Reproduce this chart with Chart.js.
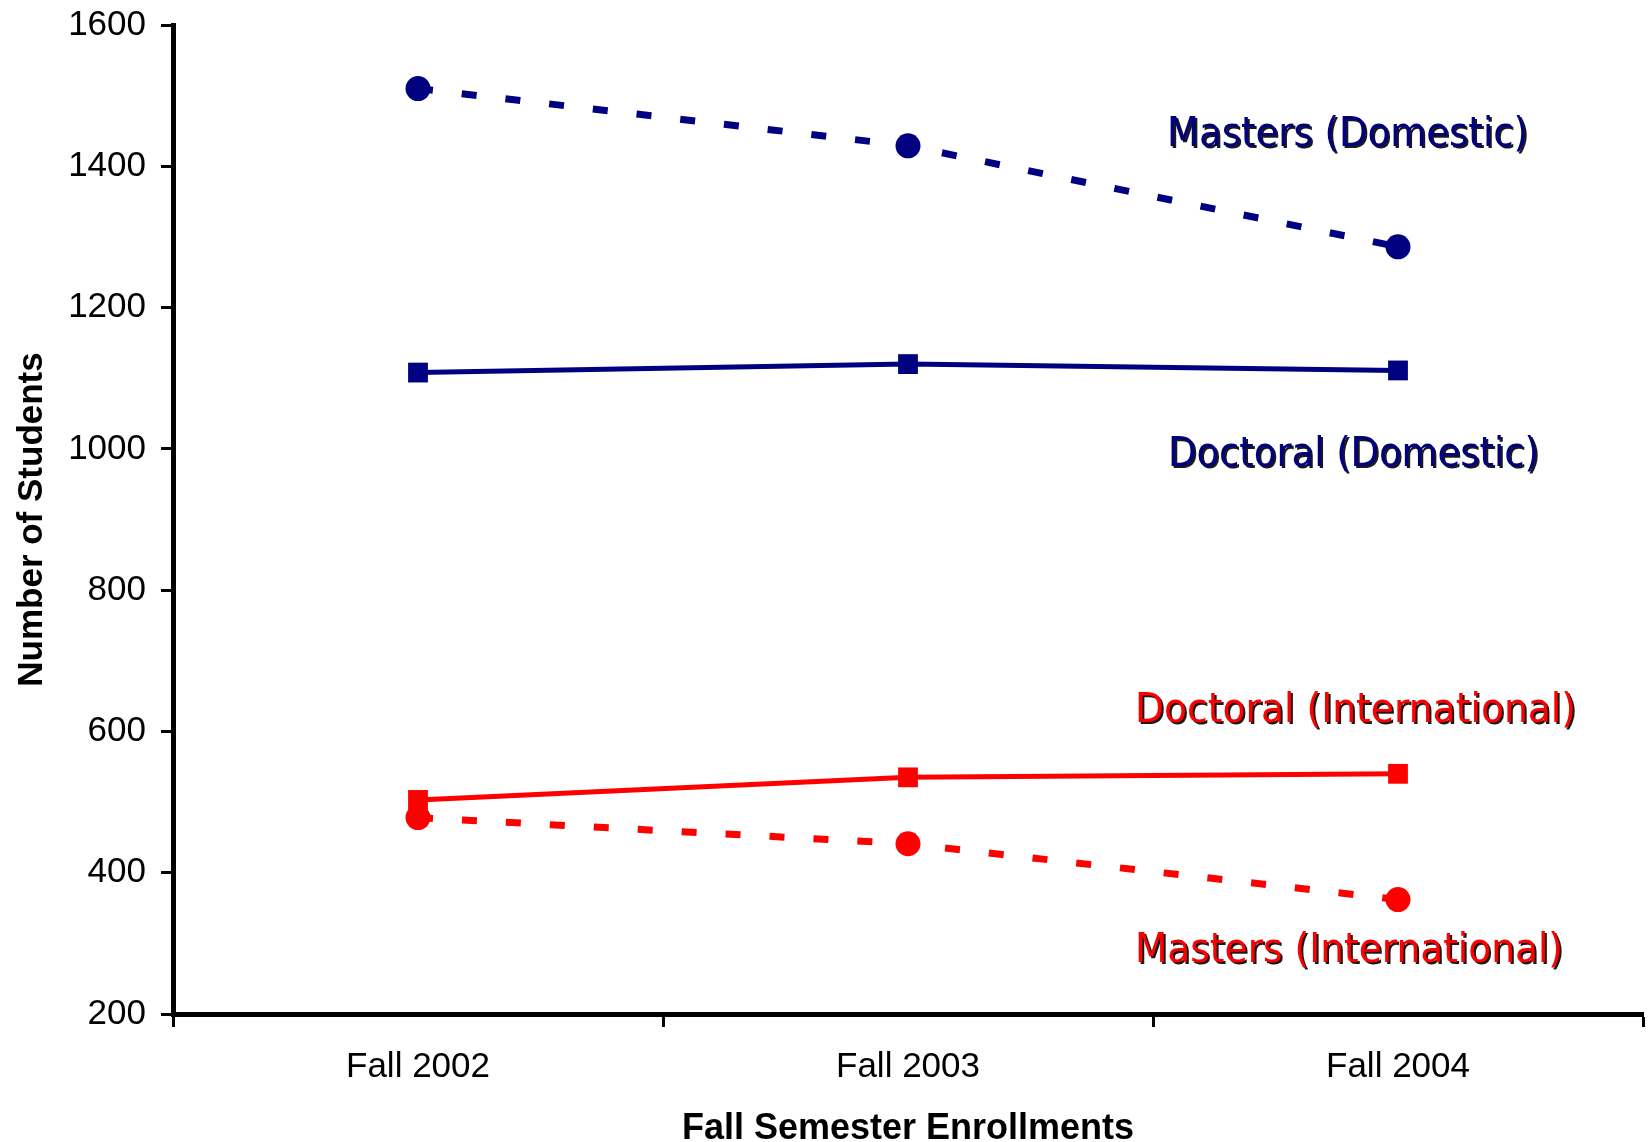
<!DOCTYPE html>
<html>
<head>
<meta charset="utf-8">
<script src="https://cdn.jsdelivr.net/npm/chart.js@4"></script>
<style>
  html, body { margin: 0; padding: 0; background: #fff; }
  #myChart { display: block; }
</style>
</head>
<body>
<canvas id="myChart" width="1648" height="1142"></canvas>
<script>
// 学期ごとの在籍者数
const semesters = ["Fall 2002", "Fall 2003", "Fall 2004"]
const mastersDomestic = [1510, 1429, 1286]
const doctoralDomestic = [1108, 1120, 1111]
const doctoralIntl = [503, 535, 540]
const mastersIntl = [478, 441, 362]
const yTicks = [200, 400, 600, 800, 1000, 1200, 1400, 1600]

const navy = "#000080"
const red = "#FF0000"

// 線の横に置くラベル (左端x, ベースラインy, 幅)
const seriesLabels = [
  { text: "Masters (Domestic)", color: navy, x: 1167, y: 146, w: 361 },
  { text: "Doctoral (Domestic)", color: navy, x: 1168, y: 466, w: 371 },
  { text: "Doctoral (International)", color: red, x: 1135, y: 722, w: 441 },
  { text: "Masters (International)", color: red, x: 1135, y: 962, w: 428 },
]

const labelPlugin = {
  id: "seriesLabels",
  afterDraw(chart) {
    const c = chart.ctx
    c.save()
    c.font = "41px 'DejaVu Sans Condensed', 'DejaVu Sans', sans-serif"
    c.textBaseline = "alphabetic"
    c.textAlign = "left"
    seriesLabels.forEach((el) => {
      let m = c.measureText(el.text).width
      c.save()
      c.translate(el.x, el.y)
      c.scale(el.w / m, 1)
      c.shadowColor = "rgba(0,0,0,0.9)"
      c.shadowOffsetX = 2
      c.shadowOffsetY = 2
      c.shadowBlur = 0
      c.fillStyle = el.color
      c.fillText(el.text, 0, 0)
      c.restore()
    })
    c.restore()
  },
}

const ctx = document.getElementById("myChart")

new Chart(ctx, {
  type: "line",
  data: {
    labels: semesters,
    datasets: [
      {
        label: "Masters (Domestic)",
        data: mastersDomestic,
        borderColor: navy,
        backgroundColor: navy,
        borderWidth: 7,
        borderDash: [15, 29],
        pointStyle: "circle",
        pointRadius: 12.5,
        pointBorderWidth: 0,
      },
      {
        label: "Doctoral (Domestic)",
        data: doctoralDomestic,
        borderColor: navy,
        backgroundColor: navy,
        borderWidth: 5,
        pointStyle: "rect",
        pointRadius: 14,
        pointBorderWidth: 0,
      },
      {
        label: "Doctoral (International)",
        data: doctoralIntl,
        borderColor: red,
        backgroundColor: red,
        borderWidth: 5,
        pointStyle: "rect",
        pointRadius: 14,
        pointBorderWidth: 0,
      },
      {
        label: "Masters (International)",
        data: mastersIntl,
        borderColor: red,
        backgroundColor: red,
        borderWidth: 7,
        borderDash: [15, 29],
        pointStyle: "circle",
        pointRadius: 12.5,
        pointBorderWidth: 0,
      },
    ],
  },
  options: {
    responsive: false,
    animation: false,
    layout: { autoPadding: false, padding: { top: 25, right: 5, left: 0, bottom: 0 } },
    plugins: {
      legend: { display: false },
      tooltip: { enabled: false },
    },
    scales: {
      x: {
        offset: true,
        grid: {
          offset: true,
          drawOnChartArea: false,
          drawTicks: true,
          tickLength: 13,
          tickWidth: 3,
          tickColor: "#000",
        },
        border: { color: "#000", width: 5 },
        ticks: {
          color: "#000",
          font: { family: "'Liberation Sans', Arial, sans-serif", size: 35 },
          padding: 19,
          maxRotation: 0,
        },
        title: {
          display: true,
          text: "Fall Semester Enrollments",
          color: "#000",
          font: { family: "'Liberation Sans', Arial, sans-serif", size: 36, weight: "bold", lineHeight: 1 },
          padding: { top: 0, bottom: -5 },
        },
        afterFit(scale) {
          scale.height = 128
          scale.paddingLeft = 0
          scale.paddingRight = 0
        },
      },
      y: {
        min: 200,
        max: 1600,
        afterBuildTicks(scale) {
          scale.ticks = yTicks.map((v) => ({ value: v }))
        },
        grid: {
          drawOnChartArea: false,
          drawTicks: true,
          tickLength: 12,
          tickWidth: 3,
          tickColor: "#000",
        },
        border: { color: "#000", width: 5 },
        ticks: {
          color: "#000",
          font: { family: "'Liberation Sans', Arial, sans-serif", size: 35 },
          padding: 15,
          callback: (v) => String(v),
        },
        title: {
          display: true,
          text: "Number of Students",
          color: "#000",
          font: { family: "'Liberation Sans', Arial, sans-serif", size: 35, weight: "bold", lineHeight: 1 },
          padding: { top: 15, bottom: 0 },
        },
        afterFit(scale) {
          scale.width = 173
          scale.paddingTop = 0
          scale.paddingBottom = 0
        },
      },
    },
  },
  plugins: [labelPlugin],
})
</script>
</body>
</html>
